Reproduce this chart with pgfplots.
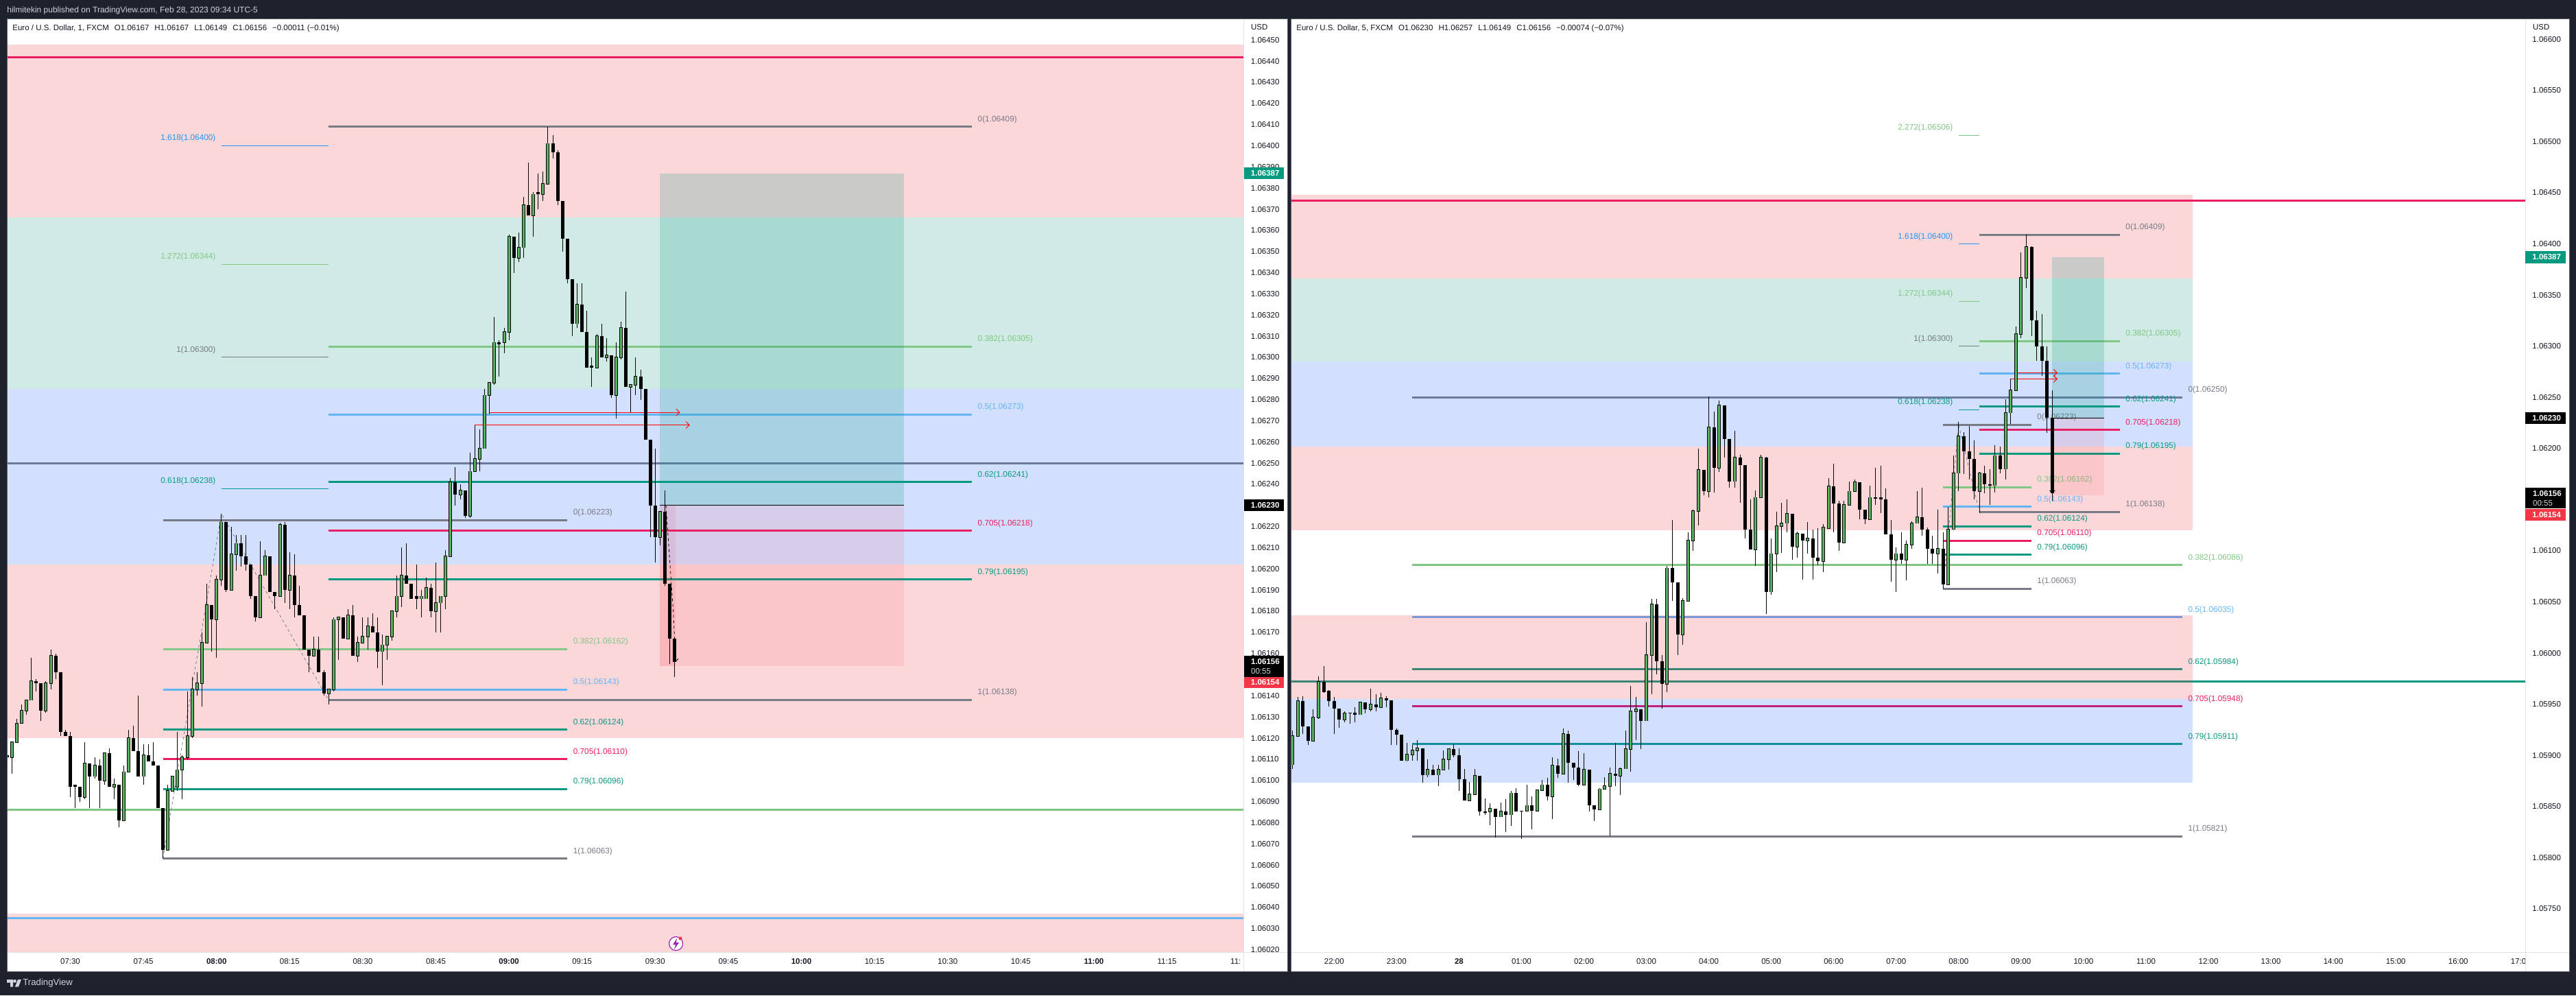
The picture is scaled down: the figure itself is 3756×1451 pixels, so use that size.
\documentclass[border=0pt]{standalone}
\usepackage{fontspec}
\setmainfont{Liberation Sans}
\usepackage{pgfplots}
\usepackage{pgfplotstable}
\pgfplotsset{compat=1.18}
\usetikzlibrary{arrows.meta}
\definecolor{bgd}{HTML}{1E222D}
\definecolor{tc}{HTML}{131722}
\definecolor{zp}{HTML}{FBD7DA}
\definecolor{zg}{HTML}{D0EBE5}
\definecolor{zb}{HTML}{D2DFFD}
\definecolor{cg}{HTML}{787B86}
\definecolor{cgr}{HTML}{81C784}
\definecolor{cb}{HTML}{64B5F6}
\definecolor{ct}{HTML}{089981}
\definecolor{cp}{HTML}{E91E63}
\definecolor{cbb}{HTML}{2196F3}
\definecolor{ctt}{HTML}{0097A7}
\definecolor{up}{HTML}{5BB060}
\definecolor{rd}{HTML}{F23645}
\definecolor{dv}{HTML}{E0E3EB}
\definecolor{HTMLteal}{HTML}{3A8478}
\definecolor{HTMLgrey}{HTML}{6B7AA1}
\definecolor{HTMLblue}{HTML}{7B98D4}
\definecolor{HTMLmag}{HTML}{C2207E}
\definecolor{HTMLcyan}{HTML}{118F9C}
\definecolor{HTMLhead}{HTML}{D1D4DC}
\definecolor{HTMLpur}{HTML}{9C27B0}
\newcommand\fl{\fontsize{5.9pt}{6.5pt}\selectfont}
\newcommand\tl{\fontsize{5.75pt}{6.5pt}\selectfont}
% 1 minute bars: minutes after 07:00
\pgfplotstableread{
x o h l c
18 1.06111 1.06118 1.06103 1.06118
19 1.06118 1.06129 1.06118 1.06127
20 1.06127 1.06136 1.06127 1.06133
21 1.06133 1.06138 1.06131 1.06138
22 1.06138 1.06158 1.06138 1.06147
25 1.06133 1.06147 1.06132 1.06146
26 1.06146 1.06162 1.06143 1.06159
33 1.06092 1.06118 1.06091 1.06108
35 1.06102 1.06111 1.06101 1.06107
37 1.06100 1.06113 1.06098 1.06113
39 1.06097 1.06101 1.06091 1.06098
41 1.06081 1.06107 1.06081 1.06104
42 1.06104 1.06124 1.06104 1.06120
45 1.06102 1.06117 1.06098 1.06112
50 1.06067 1.06098 1.06067 1.06095
51 1.06095 1.06102 1.06095 1.06102
52 1.06097 1.06123 1.06095 1.06105
53 1.06105 1.06112 1.06091 1.06111
54 1.06111 1.06142 1.06110 1.06121
55 1.06121 1.06149 1.06120 1.06143
56 1.06143 1.06151 1.06140 1.06146
57 1.06146 1.06170 1.06135 1.06165
58 1.06165 1.06193 1.06165 1.06183
60 1.06176 1.06197 1.06158 1.06195
61 1.06195 1.06226 1.06192 1.06222
63 1.06190 1.06220 1.06190 1.06207
64 1.06207 1.06216 1.06199 1.06212
69 1.06177 1.06213 1.06177 1.06197
70 1.06197 1.06209 1.06197 1.06206
73 1.06187 1.06222 1.06187 1.06221
75 1.06190 1.06208 1.06181 1.06197
80 1.06159 1.06168 1.06159 1.06162
83 1.06141 1.06143 1.06136 1.06143
84 1.06143 1.06177 1.06142 1.06176
85 1.06176 1.06177 1.06157 1.06177
87 1.06167 1.06181 1.06167 1.06178
89 1.06159 1.06168 1.06156 1.06165
90 1.06165 1.06177 1.06165 1.06168
91 1.06168 1.06177 1.06162 1.06173
94 1.06161 1.06169 1.06145 1.06164
95 1.06164 1.06168 1.06157 1.06168
96 1.06168 1.06180 1.06166 1.06180
97 1.06180 1.06197 1.06177 1.06187
98 1.06187 1.06210 1.06182 1.06197
102 1.06186 1.06190 1.06177 1.06187
103 1.06186 1.06196 1.06186 1.06191
105 1.06180 1.06203 1.06170 1.06184
106 1.06184 1.06187 1.06170 1.06187
107 1.06187 1.06209 1.06181 1.06206
108 1.06206 1.06243 1.06206 1.06241
110 1.06235 1.06240 1.06233 1.06237
112 1.06225 1.06255 1.06224 1.06246
113 1.06246 1.06268 1.06246 1.06252
114 1.06252 1.06266 1.06246 1.06257
115 1.06257 1.06285 1.06257 1.06282
116 1.06282 1.06288 1.06273 1.06288
117 1.06288 1.06319 1.06287 1.06307
119 1.06307 1.06314 1.06302 1.06312
120 1.06312 1.06358 1.06308 1.06357
122 1.06347 1.06359 1.06345 1.06352
123 1.06352 1.06376 1.06347 1.06372
125 1.06367 1.06378 1.06357 1.06377
127 1.06377 1.06388 1.06374 1.06382
128 1.06382 1.06409 1.06382 1.06401
134 1.06316 1.06335 1.06314 1.06325
138 1.06295 1.06311 1.06295 1.06310
140 1.06300 1.06309 1.06298 1.06301
142 1.06282 1.06307 1.06271 1.06300
143 1.06300 1.06317 1.06299 1.06314
145 1.06286 1.06287 1.06274 1.06287
146 1.06287 1.06300 1.06282 1.06291
151 1.06215 1.06227 1.06211 1.06227
}\lup
\pgfplotstableread{
x o h l c
17 1.06112 1.06112 1.06104 1.06111
23 1.06147 1.06148 1.06142 1.06146
24 1.06146 1.06146 1.06128 1.06133
27 1.06159 1.06160 1.06148 1.06151
28 1.06151 1.06151 1.06121 1.06123
29 1.06123 1.06124 1.06121 1.06121
30 1.06121 1.06123 1.06092 1.06097
31 1.06098 1.06098 1.06087 1.06097
32 1.06097 1.06097 1.06090 1.06092
34 1.06108 1.06108 1.06087 1.06102
36 1.06107 1.06110 1.06087 1.06100
38 1.06113 1.06115 1.06097 1.06097
40 1.06098 1.06098 1.06078 1.06081
43 1.06120 1.06126 1.06114 1.06114
44 1.06114 1.06140 1.06102 1.06102
46 1.06112 1.06117 1.06109 1.06109
47 1.06109 1.06118 1.06107 1.06107
48 1.06107 1.06107 1.06087 1.06087
49 1.06087 1.06087 1.06063 1.06067
59 1.06183 1.06183 1.06161 1.06176
62 1.06222 1.06222 1.06189 1.06190
65 1.06212 1.06216 1.06201 1.06206
66 1.06206 1.06216 1.06199 1.06202
67 1.06202 1.06202 1.06186 1.06187
68 1.06187 1.06187 1.06175 1.06177
71 1.06206 1.06206 1.06189 1.06189
72 1.06189 1.06189 1.06181 1.06187
74 1.06221 1.06222 1.06184 1.06190
76 1.06197 1.06207 1.06177 1.06183
77 1.06183 1.06192 1.06178 1.06178
78 1.06178 1.06178 1.06162 1.06162
79 1.06162 1.06162 1.06151 1.06159
81 1.06162 1.06168 1.06151 1.06151
82 1.06151 1.06152 1.06140 1.06141
86 1.06177 1.06177 1.06167 1.06167
88 1.06178 1.06183 1.06159 1.06159
92 1.06173 1.06179 1.06170 1.06170
93 1.06170 1.06177 1.06153 1.06161
99 1.06197 1.06212 1.06193 1.06193
100 1.06193 1.06193 1.06186 1.06186
101 1.06187 1.06202 1.06181 1.06186
104 1.06191 1.06193 1.06177 1.06180
109 1.06241 1.06248 1.06230 1.06235
111 1.06237 1.06237 1.06224 1.06225
118 1.06307 1.06308 1.06291 1.06306
121 1.06357 1.06357 1.06340 1.06347
124 1.06372 1.06392 1.06367 1.06367
126 1.06378 1.06387 1.06370 1.06377
129 1.06401 1.06405 1.06394 1.06397
130 1.06397 1.06398 1.06372 1.06374
131 1.06374 1.06374 1.06350 1.06356
132 1.06356 1.06356 1.06335 1.06337
133 1.06337 1.06337 1.06310 1.06316
135 1.06325 1.06335 1.06312 1.06312
136 1.06312 1.06322 1.06295 1.06295
137 1.06296 1.06300 1.06286 1.06295
139 1.06310 1.06316 1.06300 1.06300
141 1.06301 1.06301 1.06281 1.06282
144 1.06314 1.06331 1.06286 1.06286
147 1.06291 1.06294 1.06280 1.06285
148 1.06285 1.06285 1.06261 1.06261
149 1.06261 1.06261 1.06215 1.06230
150 1.06230 1.06257 1.06203 1.06215
152 1.06227 1.06237 1.06192 1.06193
153 1.06193 1.06193 1.06155 1.06167
154 1.06167 1.06167 1.06149 1.06156
}\ldn
% 5 minute bars: index after 22:00
\pgfplotstableread{
x o h l c
-8 1.05891 1.05924 1.05887 1.05919
-7 1.05919 1.05957 1.05918 1.05953
-4 1.05914 1.05945 1.05914 1.05937
-3 1.05937 1.05977 1.05936 1.05972
2 1.05935 1.05943 1.05932 1.05941
5 1.05940 1.05952 1.05940 1.05952
7 1.05945 1.05965 1.05943 1.05950
9 1.05947 1.05961 1.05947 1.05956
14 1.05895 1.05912 1.05894 1.05901
15 1.05901 1.05910 1.05895 1.05905
16 1.05905 1.05915 1.05895 1.05907
18 1.05881 1.05896 1.05879 1.05886
20 1.05881 1.05891 1.05870 1.05886
21 1.05886 1.05905 1.05886 1.05896
22 1.05896 1.05906 1.05886 1.05906
26 1.05856 1.05874 1.05856 1.05862
27 1.05862 1.05887 1.05862 1.05880
30 1.05845 1.05853 1.05832 1.05848
32 1.05840 1.05854 1.05840 1.05845
34 1.05842 1.05865 1.05831 1.05863
37 1.05846 1.05871 1.05846 1.05851
39 1.05846 1.05866 1.05846 1.05866
40 1.05866 1.05876 1.05866 1.05871
42 1.05860 1.05898 1.05838 1.05890
44 1.05882 1.05926 1.05882 1.05921
48 1.05871 1.05902 1.05871 1.05886
51 1.05847 1.05868 1.05847 1.05867
52 1.05867 1.05879 1.05867 1.05870
53 1.05870 1.05888 1.05821 1.05882
55 1.05880 1.05888 1.05861 1.05887
56 1.05887 1.05924 1.05887 1.05906
57 1.05906 1.05968 1.05884 1.05943
58 1.05943 1.05957 1.05915 1.05945
60 1.05934 1.06030 1.05934 1.05998
61 1.05998 1.06053 1.05960 1.06048
64 1.05970 1.06085 1.05962 1.06083
67 1.06018 1.06054 1.06008 1.06051
68 1.06051 1.06118 1.06051 1.06110
69 1.06110 1.06140 1.06100 1.06139
70 1.06139 1.06200 1.06125 1.06179
72 1.06158 1.06251 1.06152 1.06221
74 1.06181 1.06247 1.06177 1.06242
77 1.06168 1.06217 1.06162 1.06191
81 1.06101 1.06159 1.06085 1.06152
82 1.06152 1.06194 1.06152 1.06191
84 1.06060 1.06112 1.06057 1.06097
85 1.06097 1.06138 1.06079 1.06124
86 1.06124 1.06147 1.06098 1.06127
87 1.06127 1.06150 1.06118 1.06136
89 1.06104 1.06119 1.06093 1.06117
91 1.06110 1.06128 1.06097 1.06112
94 1.06090 1.06126 1.06079 1.06123
95 1.06122 1.06171 1.06122 1.06163
98 1.06108 1.06149 1.06108 1.06145
99 1.06145 1.06168 1.06145 1.06158
100 1.06158 1.06170 1.06158 1.06167
103 1.06131 1.06164 1.06131 1.06152
108 1.06091 1.06103 1.06060 1.06097
110 1.06091 1.06110 1.06071 1.06106
111 1.06106 1.06129 1.06102 1.06127
112 1.06127 1.06158 1.06127 1.06133
116 1.06097 1.06140 1.06078 1.06102
118 1.06067 1.06143 1.06067 1.06121
119 1.06121 1.06193 1.06120 1.06176
120 1.06176 1.06226 1.06158 1.06212
124 1.06158 1.06177 1.06137 1.06176
127 1.06164 1.06203 1.06157 1.06193
129 1.06180 1.06248 1.06170 1.06235
130 1.06235 1.06268 1.06224 1.06257
131 1.06257 1.06319 1.06257 1.06312
132 1.06312 1.06392 1.06308 1.06367
133 1.06367 1.06409 1.06357 1.06397
}\rup
\pgfplotstableread{
x o h l c
-6 1.05953 1.05958 1.05921 1.05928
-5 1.05928 1.05928 1.05910 1.05914
-2 1.05972 1.05987 1.05961 1.05962
-1 1.05963 1.05964 1.05948 1.05953
0 1.05953 1.05957 1.05921 1.05946
1 1.05946 1.05946 1.05927 1.05935
3 1.05942 1.05942 1.05931 1.05941
4 1.05942 1.05947 1.05932 1.05940
6 1.05952 1.05952 1.05941 1.05945
8 1.05950 1.05960 1.05943 1.05947
10 1.05956 1.05958 1.05947 1.05954
11 1.05954 1.05954 1.05910 1.05925
12 1.05925 1.05926 1.05910 1.05920
13 1.05920 1.05920 1.05895 1.05895
17 1.05907 1.05907 1.05873 1.05881
19 1.05886 1.05891 1.05881 1.05881
23 1.05906 1.05911 1.05898 1.05900
24 1.05900 1.05907 1.05865 1.05877
25 1.05877 1.05887 1.05856 1.05856
28 1.05880 1.05880 1.05841 1.05845
29 1.05845 1.05858 1.05842 1.05844
31 1.05848 1.05848 1.05820 1.05840
33 1.05845 1.05857 1.05825 1.05842
35 1.05863 1.05868 1.05845 1.05845
36 1.05846 1.05846 1.05818 1.05845
38 1.05851 1.05860 1.05828 1.05846
41 1.05871 1.05878 1.05856 1.05860
43 1.05890 1.05897 1.05878 1.05882
45 1.05921 1.05924 1.05873 1.05893
46 1.05893 1.05893 1.05876 1.05888
47 1.05888 1.05904 1.05870 1.05871
49 1.05886 1.05886 1.05845 1.05851
50 1.05851 1.05851 1.05836 1.05847
54 1.05882 1.05912 1.05870 1.05880
59 1.05945 1.05945 1.05906 1.05934
62 1.06048 1.06053 1.05979 1.05992
63 1.05992 1.05998 1.05946 1.05970
65 1.06083 1.06130 1.06051 1.06069
66 1.06069 1.06069 1.05998 1.06018
71 1.06179 1.06179 1.06154 1.06158
73 1.06221 1.06236 1.06157 1.06181
75 1.06242 1.06242 1.06191 1.06209
76 1.06209 1.06209 1.06162 1.06168
78 1.06191 1.06194 1.06147 1.06184
79 1.06184 1.06184 1.06112 1.06121
80 1.06121 1.06150 1.06101 1.06101
83 1.06191 1.06192 1.06038 1.06060
88 1.06136 1.06136 1.06091 1.06104
90 1.06117 1.06117 1.06072 1.06110
92 1.06112 1.06121 1.06072 1.06093
93 1.06093 1.06122 1.06086 1.06090
96 1.06163 1.06185 1.06118 1.06146
97 1.06146 1.06149 1.06100 1.06108
101 1.06167 1.06167 1.06131 1.06140
102 1.06140 1.06140 1.06126 1.06131
104 1.06152 1.06181 1.06145 1.06151
105 1.06152 1.06183 1.06137 1.06150
106 1.06150 1.06161 1.06116 1.06116
107 1.06116 1.06130 1.06070 1.06091
109 1.06097 1.06118 1.06087 1.06091
113 1.06133 1.06162 1.06115 1.06121
114 1.06121 1.06123 1.06087 1.06102
115 1.06102 1.06115 1.06087 1.06097
117 1.06102 1.06118 1.06063 1.06067
121 1.06212 1.06216 1.06175 1.06197
122 1.06197 1.06222 1.06170 1.06190
123 1.06190 1.06208 1.06150 1.06158
125 1.06176 1.06183 1.06156 1.06165
126 1.06165 1.06180 1.06145 1.06164
128 1.06193 1.06202 1.06176 1.06180
134 1.06397 1.06398 1.06310 1.06325
135 1.06325 1.06335 1.06286 1.06300
136 1.06300 1.06331 1.06271 1.06286
137 1.06286 1.06300 1.06215 1.06230
138 1.06230 1.06257 1.06149 1.06156
}\rdn
\pgfplotsset{
  panel/.style={
    scale only axis, anchor=south west, height=680pt,
    axis line style={draw=none}, major tick length=0pt, tick style={draw=none},
    ytick pos=right, yticklabel pos=right, scaled y ticks=false,
    y tick label style={font=\tl, text=tc, anchor=west, inner sep=0pt, xshift=5pt,
      /pgf/number format/.cd, fixed, fixed zerofill, precision=5, assume math mode=true},
    x tick label style={font=\tl, text=tc, anchor=north, inner sep=0pt, yshift=-4.6pt},
    clip mode=individual,
  },
  nomk/.style={only marks, mark=*, mark size=0pt, mark options={draw=none, fill=none, draw opacity=0, fill opacity=0}, forget plot},
  wick/.style={nomk, error bars/.cd, y dir=plus, y explicit,
    error mark=none, error bar style={line width=0.5pt, black, solid}},
  bodyk/.style={nomk, error bars/.cd, y dir=plus, y explicit,
    error mark=none, error bar style={line width=2.5pt, black, solid}},
  bodyo/.style={nomk, error bars/.cd, y dir=plus, y explicit,
    error mark=none, error bar style={line width=2.5pt, black, solid, shorten >=-0.4pt, shorten <=-0.4pt}},
  bodyg/.style={nomk, error bars/.cd, y dir=plus, y explicit,
    error mark=none, error bar style={line width=1.5pt, up, solid}},
}
\newcommand\zone[6]{\addplot[draw=none, fill=#1, fill opacity=#2, forget plot] coordinates {(#3,#5)(#3,#6)(#4,#6)(#4,#5)} -- cycle;}
\newcommand\hl[5][1.5pt]{\addplot[#2, line width=#1, forget plot] coordinates {(#3,#5)(#4,#5)};}
\newcommand\fibr[6]{\hl{#1}{#3}{#4}{#5}\node[anchor=west, text=#2, font=\fl, inner sep=0pt, xshift=4pt, yshift=5.3pt] at (axis cs:#4,#5) {#6};}
\newcommand\fibl[6]{\hl[0.5pt]{#1}{#3}{#4}{#5}\node[anchor=east, text=#2, font=\fl, inner sep=0pt, xshift=-4pt, yshift=5.3pt] at (axis cs:#3,#5) {#6};}
\newcommand\candles[2]{%
  \addplot[wick] table[x=x, y=l, y error plus expr=\thisrow{h}-\thisrow{l}] {#1};
  \addplot[wick] table[x=x, y=l, y error plus expr=\thisrow{h}-\thisrow{l}] {#2};
  \addplot[bodyk] table[x=x, y=c, y error plus expr=\thisrow{o}-\thisrow{c}] {#2};
  \addplot[bodyo] table[x=x, y=o, y error plus expr=\thisrow{c}-\thisrow{o}] {#1};
  \addplot[bodyg] table[x=x, y=o, y error plus expr=\thisrow{c}-\thisrow{o}] {#1};
}
\begin{document}
\begin{tikzpicture}[x=0.5pt,y=-0.5pt]
\fill[bgd] (0,0) rectangle (3756,1451);
\fill[white] (10,27) rectangle (1877,1416);
\fill[white] (1882,27) rectangle (3746,1416);
% ---------------- left chart
\begin{axis}[panel, at={(5pt,-693.75pt)}, width=901.75pt,
  xmin=16.985, xmax=270.75, ymin=1.06019, ymax=1.06460,
  xtick={30,45,60,75,90,105,120,135,150,165,180,195,210,225,240,255,270},
  xticklabels={07:30,07:45,{\bfseries 08:00},08:15,08:30,08:45,{\bfseries 09:00},09:15,09:30,09:45,{\bfseries 10:00},10:15,10:30,10:45,{\bfseries 11:00},11:15,{\rlap{11:}\phantom{11:30}}},
  ytick={1.0602,1.0603,1.0604,1.0605,1.0606,1.0607,1.0608,1.0609,1.0610,1.0611,1.0612,1.0613,1.0614,1.0615,1.0616,1.0617,1.0618,1.0619,1.0620,1.0621,1.0622,1.0623,1.0624,1.0625,1.0626,1.0627,1.0628,1.0629,1.0630,1.0631,1.0632,1.0633,1.0634,1.0635,1.0636,1.0637,1.0638,1.0639,1.0640,1.0641,1.0642,1.0643,1.0644,1.0645},
]
\zone{zp}{1}{10}{280}{1.06366}{1.06448}
\zone{zg}{1}{10}{280}{1.06285}{1.06366}
\zone{zb}{1}{10}{280}{1.06202}{1.06285}
\zone{zp}{1}{10}{280}{1.06120}{1.06202}
\zone{zp}{1}{10}{280}{1.06019}{1.06037}
\hl{cp}{10}{280}{1.06442}
\hl{cb}{10}{280}{1.06035}
\hl{cgr}{10}{280}{1.06086}
\hl{HTMLgrey}{10}{280}{1.06250}
\fibr{cg}{cg}{83}{215}{1.06409}{0(1.06409)}
\fibr{cgr}{cgr}{83}{215}{1.06305}{0.382(1.06305)}
\fibr{cb}{cb}{83}{215}{1.06273}{0.5(1.06273)}
\fibr{ct}{ct}{83}{215}{1.06241}{0.62(1.06241)}
\fibr{cp}{cp}{83}{215}{1.06218}{0.705(1.06218)}
\fibr{ct}{ct}{83}{215}{1.06195}{0.79(1.06195)}
\fibr{cg}{cg}{83}{215}{1.06138}{1(1.06138)}
\fibr{cg}{cg}{49}{132}{1.06223}{0(1.06223)}
\fibr{cgr}{cgr}{49}{132}{1.06162}{0.382(1.06162)}
\fibr{cb}{cb}{49}{132}{1.06143}{0.5(1.06143)}
\fibr{ct}{ct}{49}{132}{1.06124}{0.62(1.06124)}
\fibr{cp}{cp}{49}{132}{1.06110}{0.705(1.06110)}
\fibr{ct}{ct}{49}{132}{1.06096}{0.79(1.06096)}
\fibr{cg}{cg}{49}{132}{1.06063}{1(1.06063)}
\fibl{cbb}{cbb}{61}{83}{1.06400}{1.618(1.06400)}
\fibl{cgr}{cgr}{61}{83}{1.06344}{1.272(1.06344)}
\fibl{cg}{cg}{61}{83}{1.06300}{1(1.06300)}
\fibl{ctt}{ct}{61}{83}{1.06238}{0.618(1.06238)}
\zone{ct}{0.2}{151}{201}{1.06230}{1.06387}
\zone{rd}{0.1}{151}{201}{1.06154}{1.06230}
\zone{rd}{0.1}{151}{154.2}{1.06154}{1.06230}
\hl[0.5pt]{black}{151}{201}{1.06230}
\addplot[cg, line width=0.4pt, dash pattern=on 2pt off 2pt, forget plot] coordinates {(49,1.06063)(61,1.06226)(83,1.06138)};
\addplot[red, line width=0.5pt, forget plot, -{Straight Barb[length=2.5pt,width=5pt]}] coordinates {(116,1.06274)(155.1,1.06274)};
\addplot[red, line width=0.5pt, forget plot, -{Straight Barb[length=2.5pt,width=5pt]}] coordinates {(113,1.06268)(157.1,1.06268)};
\candles{\lup}{\ldn}
\addplot[black, line width=0.4pt, dash pattern=on 2pt off 2pt, forget plot, -{Straight Barb[length=2pt,width=4pt]}] coordinates {(152.2,1.06230)(153.7,1.06180)(154.2,1.06156)};
\end{axis}
% ---------------- right chart
\begin{axis}[panel, at={(941pt,-693.75pt)}, width=900pt,
  xmin=-8.34, xmax=228.89, ymin=1.05708, ymax=1.06620,
  xtick={0,12,24,36,48,60,72,84,96,108,120,132,144,156,168,180,192,204,216,228},
  xticklabels={22:00,23:00,{\bfseries 28},01:00,02:00,03:00,04:00,05:00,06:00,07:00,08:00,09:00,10:00,11:00,12:00,13:00,14:00,15:00,16:00,{\rlap{17:0}\phantom{17:00}}},
  ytick={1.0575,1.0580,1.0585,1.0590,1.0595,1.0600,1.0605,1.0610,1.0615,1.0620,1.0625,1.0630,1.0635,1.0640,1.0645,1.0650,1.0655,1.0660},
]
\zone{zp}{1}{-10}{165}{1.06366}{1.06448}
\zone{zg}{1}{-10}{165}{1.06285}{1.06366}
\zone{zb}{1}{-10}{165}{1.06202}{1.06285}
\zone{zp}{1}{-10}{165}{1.06120}{1.06202}
\zone{zp}{1}{-10}{165}{1.05955}{1.06037}
\zone{zb}{1}{-10}{165}{1.05873}{1.05955}
\hl{cp}{-10}{235}{1.06442}
\hl{ct}{165}{235}{1.05972}
\hl{HTMLteal}{-10}{165}{1.05972}
\fibr{HTMLgrey}{cg}{15}{163}{1.06250}{0(1.06250)}
\fibr{cgr}{cgr}{15}{163}{1.06086}{0.382(1.06086)}
\fibr{HTMLblue}{cb}{15}{163}{1.06035}{0.5(1.06035)}
\fibr{HTMLteal}{ct}{15}{163}{1.05984}{0.62(1.05984)}
\fibr{HTMLmag}{cp}{15}{163}{1.05948}{0.705(1.05948)}
\fibr{HTMLcyan}{ct}{15}{163}{1.05911}{0.79(1.05911)}
\fibr{cg}{cg}{15}{163}{1.05821}{1(1.05821)}
\fibr{cg}{cg}{124}{151}{1.06409}{0(1.06409)}
\fibr{cgr}{cgr}{124}{151}{1.06305}{0.382(1.06305)}
\fibr{cb}{cb}{124}{151}{1.06273}{0.5(1.06273)}
\fibr{ct}{ct}{124}{151}{1.06241}{0.62(1.06241)}
\fibr{cp}{cp}{124}{151}{1.06218}{0.705(1.06218)}
\fibr{ct}{ct}{124}{151}{1.06195}{0.79(1.06195)}
\fibr{cg}{cg}{124}{151}{1.06138}{1(1.06138)}
\fibr{cg}{cg}{117}{134}{1.06223}{0(1.06223)}
\fibr{cgr}{cgr}{117}{134}{1.06162}{0.382(1.06162)}
\fibr{cb}{cb}{117}{134}{1.06143}{0.5(1.06143)}
\fibr{ct}{ct}{117}{134}{1.06124}{0.62(1.06124)}
\fibr{cp}{cp}{117}{134}{1.06110}{0.705(1.06110)}
\fibr{ct}{ct}{117}{134}{1.06096}{0.79(1.06096)}
\fibr{cg}{cg}{117}{134}{1.06063}{1(1.06063)}
\fibl{cgr}{cgr}{120}{124}{1.06506}{2.272(1.06506)}
\fibl{cbb}{cbb}{120}{124}{1.06400}{1.618(1.06400)}
\fibl{cgr}{cgr}{120}{124}{1.06344}{1.272(1.06344)}
\fibl{cg}{cg}{120}{124}{1.06300}{1(1.06300)}
\fibl{ctt}{ct}{120}{124}{1.06238}{0.618(1.06238)}
\zone{ct}{0.2}{138}{148}{1.06230}{1.06387}
\zone{rd}{0.1}{138}{148}{1.06154}{1.06230}
\hl[0.5pt]{black}{138}{148}{1.06230}
\addplot[cg, line width=0.4pt, dash pattern=on 2pt off 2pt, forget plot] coordinates {(117,1.06063)(120,1.06223)(124,1.06138)};
\addplot[red, line width=0.5pt, forget plot, -{Straight Barb[length=2.5pt,width=5pt]}] coordinates {(131,1.06274)(139,1.06274)};
\addplot[red, line width=0.5pt, forget plot, -{Straight Barb[length=2.5pt,width=5pt]}] coordinates {(130,1.06268)(139,1.06268)};
\candles{\rup}{\rdn}
\addplot[black, line width=0.4pt, forget plot, -{Straight Barb[length=2pt,width=4pt]}] coordinates {(138,1.06200)(138,1.06156)};
\end{axis}
% ---------------- frames and dividers
\draw[dv, line width=0.5pt] (10,1388) -- (1877,1388) (1813.5,27) -- (1813.5,1416);
\draw[dv, line width=0.5pt] (1882,1388) -- (3746,1388) (3682,27) -- (3682,1416);
\draw[cg!70!bgd, line width=0.5pt] (10,27) rectangle (1877,1416);
\draw[cg!70!bgd, line width=0.5pt] (1882,27) rectangle (3746,1416);
% ---------------- text
\node[anchor=west, inner sep=0pt, text=HTMLhead, font=\fontsize{6pt}{7pt}\selectfont] at (10,15) {hilmitekin published on TradingView.com, Feb 28, 2023 09:34 UTC-5};
\node[anchor=west, inner sep=0pt, text=tc, font=\tl] at (18,42) {Euro / U.S. Dollar, 1, FXCM\hspace{4pt}O1.06167\hspace{4pt}H1.06167\hspace{4pt}L1.06149\hspace{4pt}C1.06156\hspace{4pt}−0.00011 (−0.01\%)};
\node[anchor=west, inner sep=0pt, text=tc, font=\tl] at (1890,42) {Euro / U.S. Dollar, 5, FXCM\hspace{4pt}O1.06230\hspace{4pt}H1.06257\hspace{4pt}L1.06149\hspace{4pt}C1.06156\hspace{4pt}−0.00074 (−0.07\%)};
\node[anchor=west, inner sep=0pt, text=tc, font=\tl] at (1823.7,40) {USD};
\node[anchor=west, inner sep=0pt, text=tc, font=\tl] at (3692.7,40) {USD};
\newcommand\badge[6]{\fill[#1] (#2,#3) rectangle (#4,#5); \node[anchor=west, inner sep=0pt, text=white, font=\tl\bfseries] at ({#2+10},{(#3+#5)/2}) {#6};}
\badge{ct}{1813.5}{244}{1872}{261}{1.06387}
\badge{black}{1813.5}{728}{1872}{745}{1.06230}
\fill[black] (1813.5,956) rectangle (1872,987);
\node[anchor=west, inner sep=0pt, text=white, font=\tl\bfseries] at (1823.7,965) {1.06156};
\node[anchor=west, inner sep=0pt, text=HTMLhead, font=\tl] at (1823.7,979) {00:55};
\badge{rd}{1813.5}{987}{1872}{1003}{1.06154}
\badge{ct}{3682}{366}{3740.7}{384}{1.06387}
\badge{black}{3682}{601}{3740.7}{617.5}{1.06230}
\fill[black] (3682,711) rectangle (3740.7,741);
\node[anchor=west, inner sep=0pt, text=white, font=\tl\bfseries] at (3692.7,719.5) {1.06156};
\node[anchor=west, inner sep=0pt, text=HTMLhead, font=\tl] at (3692.7,733.5) {00:55};
\badge{rd}{3682}{742}{3740.7}{759}{1.06154}
% ---------------- logo
\fill[HTMLhead] (10,1428) -- (19,1428) -- (19,1438.5) -- (15,1438.5) -- (15,1432.5) -- (10,1432.5) -- cycle;
\fill[HTMLhead] (21.5,1430.3) circle[radius=2.4];
\fill[HTMLhead] (26,1428) -- (31,1428) -- (27,1438.5) -- (22,1438.5) -- cycle;
\node[anchor=west, inner sep=0pt, text=HTMLhead, font=\fontsize{6.6pt}{8pt}\selectfont] at (33,1433) {TradingView};
% ---------------- lightning icon
\fill[white] (985.6,1375.6) circle[radius=10];
\draw[HTMLpur, line width=0.6pt] (985.6,1375.6) circle[radius=10];
\fill[HTMLpur] (987,1368) -- (981,1377) -- (985,1377) -- (983,1384) -- (990,1374) -- (986,1374) -- cycle;
\fill[rd] (992,1368) circle[radius=2.5];
\path[use as bounding box] (0,0) rectangle (3756,1451);
\end{tikzpicture}
\end{document}
